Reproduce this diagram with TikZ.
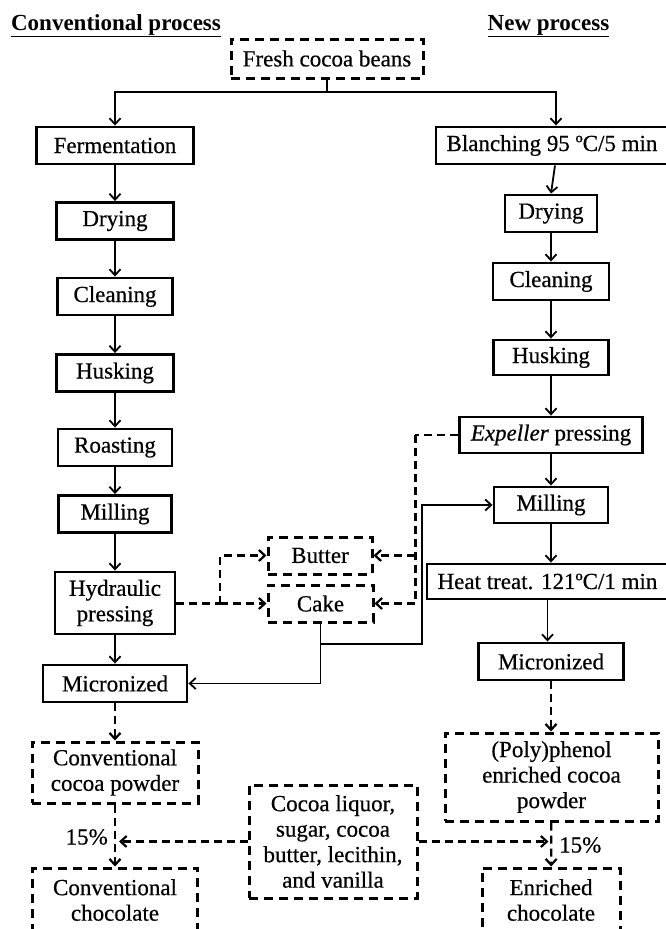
\documentclass[tikz,border=0pt]{standalone}
\usepackage{fontspec}
\setmainfont{Liberation Serif}
\newfontfamily\heavyserif{Liberation Serif}[FakeBold=0.5]
\usetikzlibrary{arrows.meta}
\newcommand\fsbox{\heavyserif\fontsize{23}{25.5}\selectfont}
\newcommand\fstitle{\fontsize{23}{25}\selectfont\bfseries}
\tikzset{
  box/.style={draw, line width=2.9pt, minimum height=37pt, inner sep=0pt, align=center, font=\fsbox},
  dbox/.style={box, dash pattern=on 9pt off 6pt, line width=3pt},
  con/.style={line width=1.8pt, -{Straight Barb[length=6pt,width=11pt]}},
  dline/.style={line width=2.2pt, dash pattern=on 8pt off 5pt},
  dcon/.style={con, dline},
  lbl/.style={font=\fsbox, inner sep=0pt},
}
\begin{document}
\begin{tikzpicture}[x=1pt,y=-1pt]
\useasboundingbox (0,0) rectangle (666,929);
% titles
\node[font=\fstitle, inner sep=0pt, anchor=base] (t1) at (116,30) {\underline{Conventional process}};
\node[font=\fstitle, inner sep=0pt, anchor=base] (t2) at (548.5,30) {\underline{New process}};
% top
\node[dbox, minimum width=192pt, minimum height=39pt] (fresh) at (327,58.5) {Fresh cocoa beans};
% left column
\node[box, minimum width=157pt] (ferm) at (115,145.5) {Fermentation};
\node[box, minimum width=117pt] (dry1) at (115,221) {Drying};
\node[box, minimum width=115pt] (clean1) at (115,296.5) {Cleaning};
\node[box, minimum width=117pt] (husk1) at (115,373) {Husking};
\node[box, minimum width=114pt] (roast1) at (115,447.5) {Roasting};
\node[box, minimum width=113pt] (mill1) at (115,514) {Milling};
\node[box, minimum width=120pt, minimum height=62pt] (hydr) at (115,603) {Hydraulic\\pressing};
\node[box, minimum width=144pt] (micro1) at (115,683.5) {Micronized};
\node[dbox, minimum width=166pt, minimum height=61pt] (pow1) at (115,772.5) {Conventional\\cocoa powder};
\node[dbox, minimum width=165pt, minimum height=64pt] (choc1) at (115,900) {Conventional\\chocolate};
% right column
\node[box, minimum width=232pt] (blanch) at (552,145.5) {Blanching 95 ºC/5 min};
\node[box, minimum width=92pt] (dry2) at (551,213.5) {Drying};
\node[box, minimum width=116pt] (clean2) at (551,281.5) {Cleaning};
\node[box, minimum width=115pt, minimum height=35pt] (husk2) at (551,357.5) {Husking};
\node[box, minimum width=183pt, minimum height=36pt] (exp) at (551,435) {\textit{Expeller} pressing};
\node[box, minimum width=114pt, minimum height=36pt] (mill2) at (551,505) {Milling};
\node[box, minimum width=241pt, minimum height=35pt] (heat) at (547.5,581.5) {Heat treat. 121ºC/1 min};
\node[box, minimum width=145pt] (micro2) at (551,661.5) {Micronized};
\node[dbox, minimum width=213pt, minimum height=88pt] (poly) at (551.5,777) {(Poly)phenol\\enriched cocoa\\powder};
\node[dbox, minimum width=138pt, minimum height=64pt] (enr) at (551,900) {Enriched\\chocolate};
% middle
\node[dbox, minimum width=104pt, minimum height=37pt] (butter) at (320,555.5) {Butter};
\node[dbox, minimum width=105pt, minimum height=37pt] (cake) at (320.5,603.5) {Cake};
\node[dbox, minimum width=168pt, minimum height=113pt] (mix) at (333,841.5) {Cocoa liquor,\\sugar, cocoa\\butter, lecithin,\\and vanilla};
% labels
\node[lbl, anchor=east] (p1) at (108,837) {15\%};
\node[lbl, anchor=west] (p2) at (559,845) {15\%};
% top split
\coordinate (j) at (327,92);
\draw[line width=1.8pt] (fresh.south) -- (j);
\draw[con] (j) -| (ferm.north);
\draw[con] (j) -| ([xshift=4pt]blanch.north);
\draw[con] ([xshift=3pt]blanch.south) -- (dry2.north);
% left chain
\foreach \a/\b in {ferm/dry1, dry1/clean1, clean1/husk1, husk1/roast1, roast1/mill1, mill1/hydr, hydr/micro1}
  \draw[con] (\a) -- (\b);
% right chain
\foreach \a/\b in {dry2/clean2, clean2/husk2, husk2/exp, exp/mill2, mill2/heat, heat/micro2}
  \draw[con] (\a.south) -- (\a.south |- \b.north);
% dashed product arrows
\draw[dcon] (micro1) -- (pow1);
\draw[dcon] (pow1) -- (choc1);
\draw[dcon] (micro2.south) -- (micro2.south |- poly.north);
\draw[dcon] (poly) -- (enr);
\coordinate (m1) at (pow1.south |- mix.west);
\coordinate (m2) at (poly.south |- mix.east);
\draw[dcon, shorten >=4pt] (mix.west) -- (m1);
\draw[dcon, shorten >=3pt] (mix.east) -- (m2);
% expeller -> butter/cake
\coordinate (e1) at (415,435);
\coordinate (e2) at (415,603.5);
\coordinate (e3) at (415,555.5);
\draw[dline] (exp.west) -- (e1);
\draw[dline, line width=3pt] (e1) -- (e2);
\draw[dcon] (e3) -- (butter.east);
\draw[dcon] (e2) -- (cake.east);
% hydraulic -> butter/cake
\coordinate (h1) at (220,603.5);
\coordinate (h2) at (220,555.5);
\draw[dline] (hydr.east |- h1) -- (h1);
\draw[dcon] (h1) -- (cake.west);
\draw[dcon] (h1) -- (h2) -- (butter.west);
% cake -> micronized / milling
\coordinate (c1) at (320.5,644);
\coordinate (c2) at (320.5,683.5);
\coordinate (c3) at (422,644);
\coordinate (c4) at (422,505);
\draw[con] (cake.south) -- (c2) -- (micro1.east);
\draw[con] (c1) -- (c3) -- (c4) -- (mill2.west);
\end{tikzpicture}
\end{document}
